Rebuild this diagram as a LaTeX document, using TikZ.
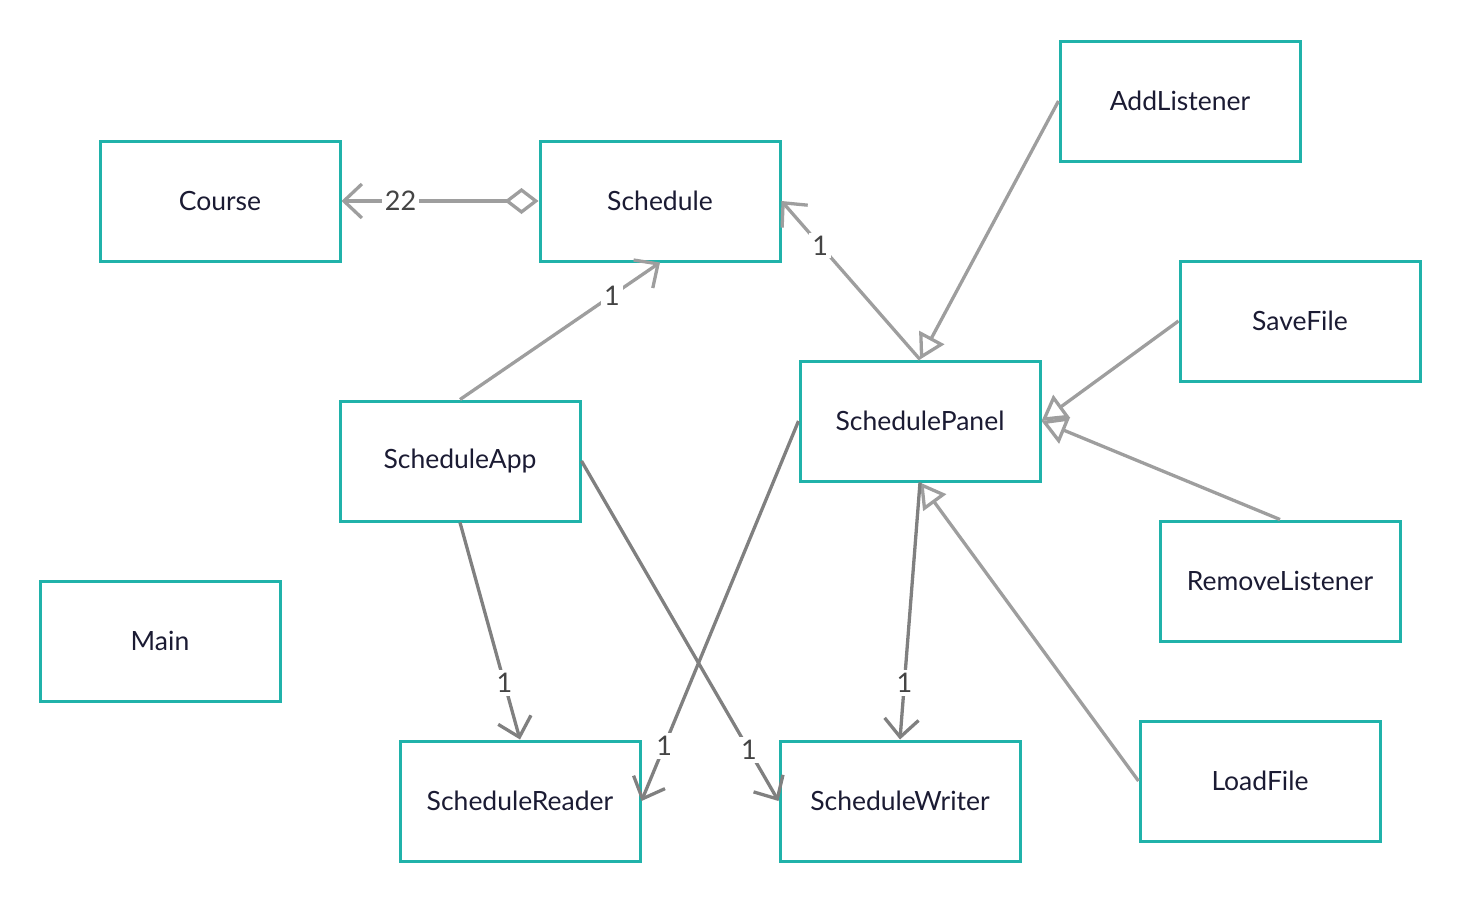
\documentclass[tikz,border=0pt]{standalone}
\usepackage{fontspec}
\setmainfont{Lato}
\usetikzlibrary{arrows.meta}
\definecolor{teal1}{HTML}{20B2AA}
\definecolor{lgrey}{HTML}{9E9E9E}
\definecolor{dgrey}{HTML}{808080}
\definecolor{txt}{HTML}{1B1B33}
\definecolor{lbl}{HTML}{444444}
\tikzset{
  cls/.style={draw=teal1, line width=3pt, minimum width=240pt, minimum height=120pt, inner sep=0pt, text=txt, font=\fontsize{26.5}{30}\selectfont, anchor=north west},
  conn/.style={line width=3.3pt, lgrey},
  dconn/.style={line width=3.3pt, dgrey},
  assoc/.style={-{Straight Barb[length=18pt,width=34pt,line width=3.3pt]}},
  inh/.style={-{Triangle[open,length=25pt,width=28pt,line width=3.3pt]}},
  agg/.style={{Diamond[open,length=34pt,width=26pt,line width=3.3pt]}-{Straight Barb[length=18pt,width=34pt,line width=3.3pt]}},
  lab/.style={fill=white, text=lbl, font=\fontsize{27}{30}\selectfont, inner sep=3pt}
}
\begin{document}
\begin{tikzpicture}[x=1pt,y=-1pt]
\useasboundingbox (0,0) rectangle (1460,900);
\node[cls] (course) at (98.5,139.5) {Course};
\node[cls] (schedule) at (538.5,139.5) {Schedule};
\node[cls] (addl) at (1058.5,39.5) {AddListener};
\node[cls] (save) at (1178.5,259.5) {SaveFile};
\node[cls] (panel) at (798.5,359.5) {SchedulePanel};
\node[cls] (app) at (338.5,399.5) {ScheduleApp};
\node[cls] (remove) at (1158.5,519.5) {RemoveListener};
\node[cls] (main) at (38.5,579.5) {Main};
\node[cls] (load) at (1138.5,719.5) {LoadFile};
\node[cls] (reader) at (398.5,739.5) {ScheduleReader};
\node[cls] (writer) at (778.5,739.5) {ScheduleWriter};

\draw[conn, agg] (schedule.west) -- node[lab, pos=0.7] {22} (course.east);
\draw[conn, assoc] (app.north) -- node[lab, pos=0.76] {1} (schedule.south);
\draw[conn, assoc] (panel.north) -- node[lab, pos=0.72] {1} (schedule.east);
\draw[conn, inh] (addl.west) -- (panel.north);
\draw[conn, inh] (save.west) -- (panel.east);
\draw[conn, inh] (remove.north) -- (panel.east);
\draw[conn, inh] (load.west) -- (panel.south);

\draw[dconn, assoc] (app.south) -- node[lab, pos=0.74] {1} (reader.north);
\draw[dconn, assoc] (app.east) -- node[lab, pos=0.85] {1} (writer.west);
\draw[dconn, assoc] (panel.west) -- node[lab, pos=0.855] {1} (reader.east);
\draw[dconn, assoc] (panel.south) -- node[lab, pos=0.78] {1} (writer.north);
\end{tikzpicture}
\end{document}
